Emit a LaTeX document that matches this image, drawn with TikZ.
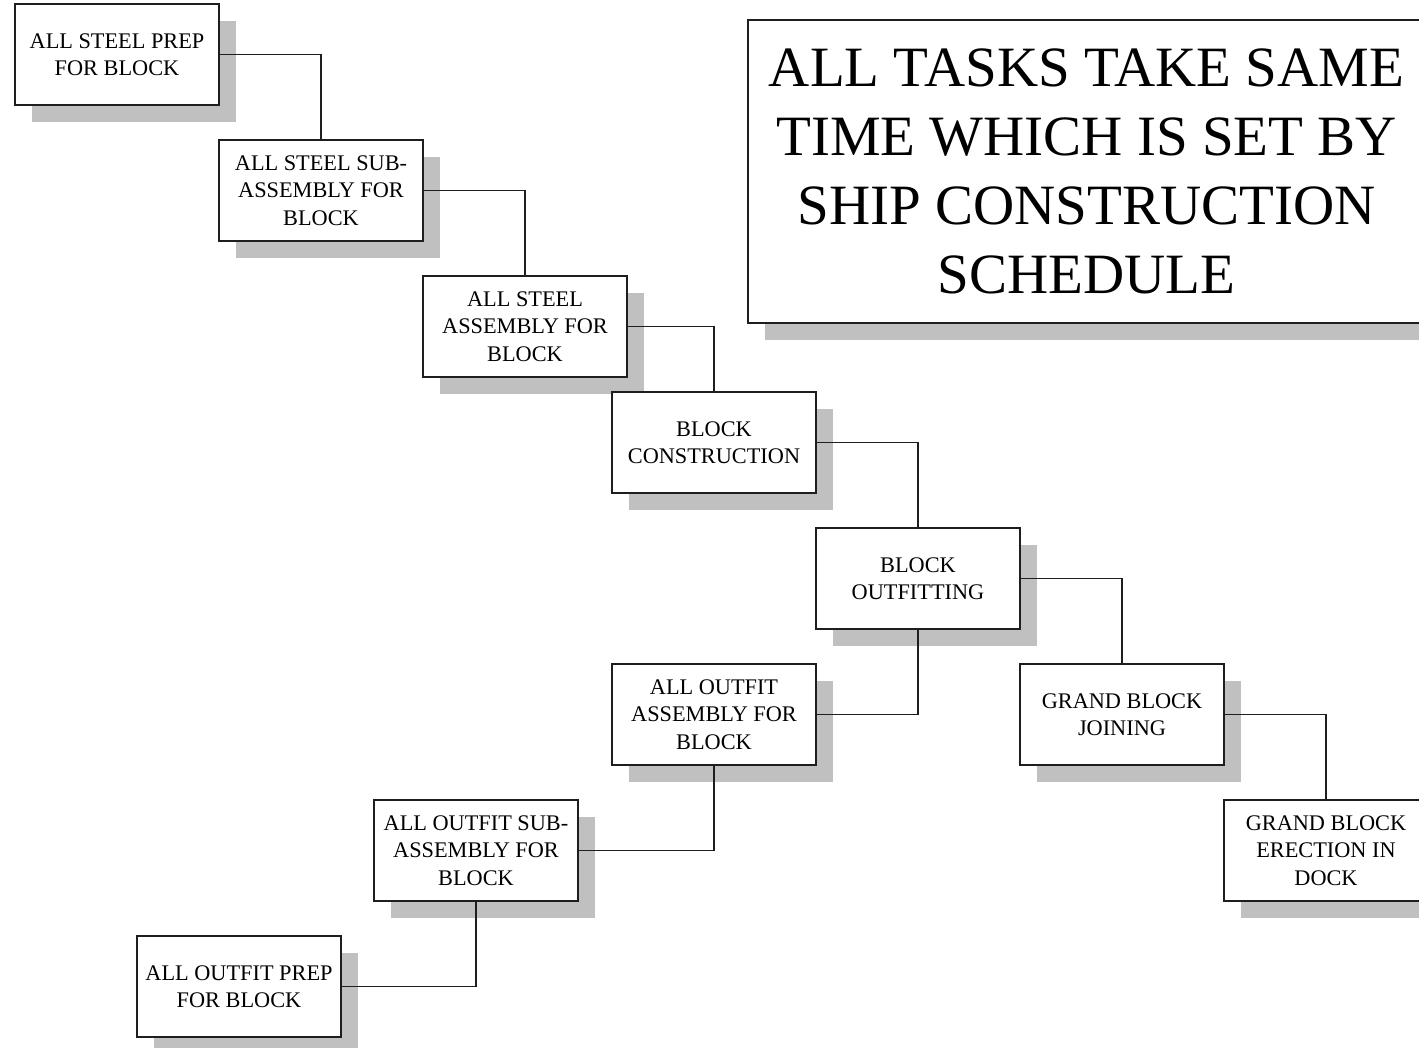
\documentclass[tikz,border=0pt]{standalone}
\usepackage{fontspec}
\setmainfont{Liberation Serif}
\usetikzlibrary{shadows}
\definecolor{shade}{RGB}{192,192,192}
\definecolor{ink}{RGB}{30,30,30}
\begin{document}
\begin{tikzpicture}[x=1pt,y=-1pt,
  task/.style={draw=ink, line width=1.7pt, fill=white, rectangle,
    minimum width=204pt, minimum height=101pt, inner sep=0pt, align=center,
    font=\fontsize{22.3}{27.5}\selectfont, text=black,
    general shadow={fill=shade, shadow xshift=17pt, shadow yshift=-17pt}},
  note/.style={task, minimum width=677pt, minimum height=303pt,
    font=\fontsize{57}{69}\selectfont},
  link/.style={draw=ink, line width=1.7pt}]
\path[use as bounding box, clip] (0,0) rectangle (1419,1048);
\fill[white] (0,0) rectangle (1419,1048);

% task boxes
\node[task] (sprep)  at (117,54.5)   {ALL STEEL PREP\\FOR BLOCK};
\node[task] (ssub)   at (321,190.5)  {ALL STEEL SUB-\\ASSEMBLY FOR\\BLOCK};
\node[task] (sasm)   at (525,326.5)  {ALL STEEL\\ASSEMBLY FOR\\BLOCK};
\node[task] (bcon)   at (714,442.5)  {BLOCK\\CONSTRUCTION};
\node[task] (bout)   at (918,578.5)  {BLOCK\\OUTFITTING};
\node[task] (oasm)   at (714,714.5)  {ALL OUTFIT\\ASSEMBLY FOR\\BLOCK};
\node[task] (gjoin)  at (1122,714.5) {GRAND BLOCK\\JOINING};
\node[task] (osub)   at (476,850.5)  {ALL OUTFIT SUB-\\ASSEMBLY FOR\\BLOCK};
\node[task] (gerect) at (1326,850.5) {GRAND BLOCK\\ERECTION IN\\DOCK};
\node[task] (oprep)  at (239,986.5)  {ALL OUTFIT PREP\\FOR BLOCK};

% schedule note
\node[note] (rule) at (1086.5,171.5)
  {ALL TASKS TAKE SAME\\TIME WHICH IS SET BY\\SHIP CONSTRUCTION\\SCHEDULE};

% connectors
\draw[link] (sprep.east) -| (ssub.north);
\draw[link] (ssub.east)  -| (sasm.north);
\draw[link] (sasm.east)  -| (bcon.north);
\draw[link] (bcon.east)  -| (bout.north);
\draw[link] (bout.east)  -| (gjoin.north);
\draw[link] (gjoin.east) -| (gerect.north);
\draw[link] (bout.south) |- (oasm.east);
\draw[link] (oasm.south) |- (osub.east);
\draw[link] (osub.south) |- (oprep.east);
\end{tikzpicture}
\end{document}
